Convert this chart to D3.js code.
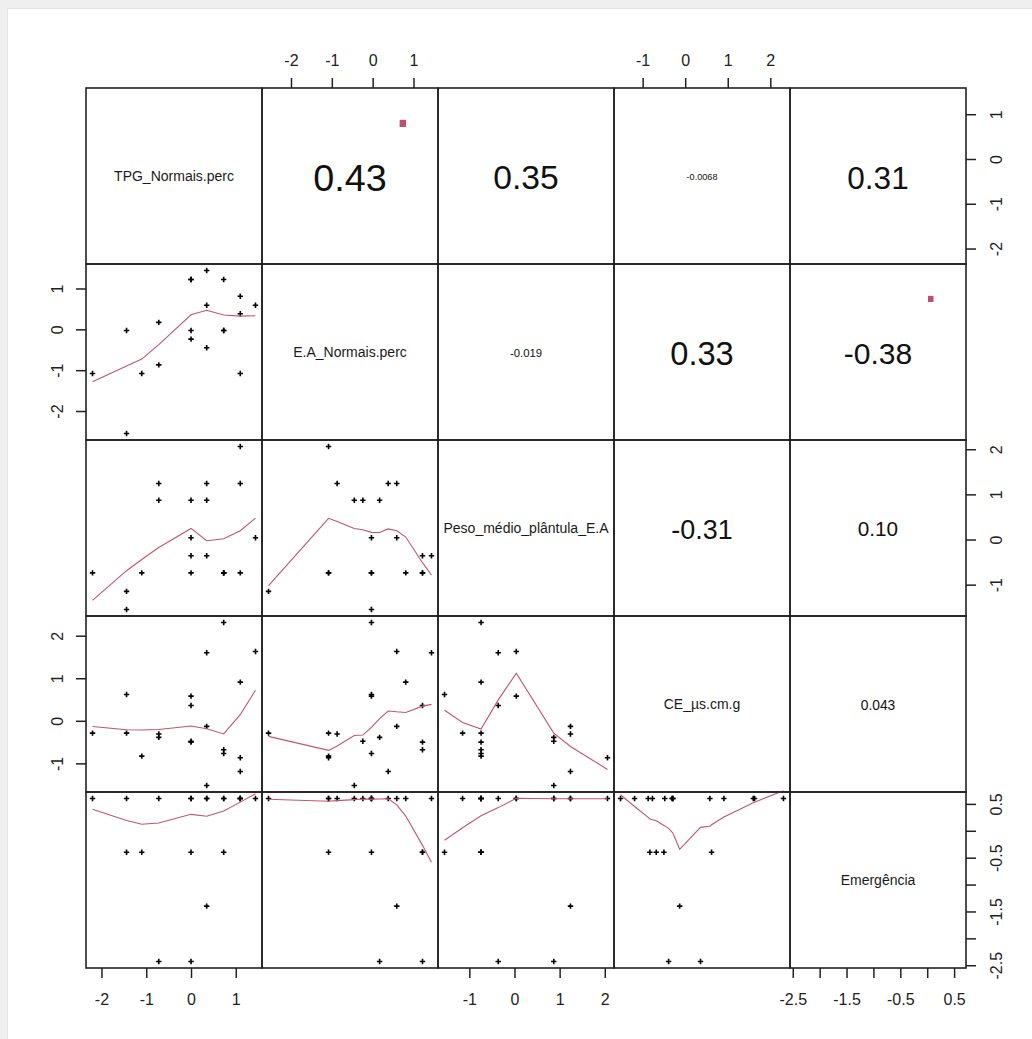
<!DOCTYPE html>
<html>
<head>
<meta charset="utf-8">
<script src="https://cdn.jsdelivr.net/npm/d3@7"></script>
<style>
  html, body { margin: 0; padding: 0; background: #fff; }
  svg { display: block; }
  text { font-family: "Liberation Sans", Arial, sans-serif; }
</style>
</head>
<body>
<script>
// Variable names shown on the diagonal
const varNames = ["TPG_Normais.perc", "E.A_Normais.perc", "Peso_médio_plântula_E.A", "CE_µs.cm.g", "Emergência"];

// Standardised observations (20 lots), one array per variable
const tpg   = [0, 0.35, 0.73, 1.10, 1.44, 0.35, 1.10, -0.72, -1.44, 0, 0.73, 0, 0.35, -0.72, -2.20, -1.10, 1.10, -1.44, 0, 0.73];
const ea    = [1.22, 1.44, 1.22, 0.81, 0.59, 0.59, 0.38, 0.17, -0.03, -0.03, -0.03, -0.24, -0.45, -0.87, -1.08, -1.08, -1.08, -2.55, 1.22, -0.03];
const peso  = [-0.36, -0.36, -0.74, -0.74, 0.04, 1.24, 1.24, 0.87, -1.55, 0.04, -0.74, 0.87, 0.87, 1.24, -0.74, -0.74, 2.06, -1.15, -0.74, -0.74];
const ce    = [0.36, 1.60, -0.68, 0.91, 1.63, -0.13, -1.19, -0.39, 0.62, 0.58, 2.31, -0.48, -1.52, -0.31, -0.29, -0.83, -0.87, -0.29, -0.50, -0.77];
const emerg = [-2.43, 0.6, -0.4, 0.6, 0.6, -1.4, 0.6, -2.43, -0.4, 0.6, 0.6, 0.6, 0.6, 0.6, 0.6, -0.4, 0.6, 0.6, -0.4, 0.6];

// Pearson correlations printed in the upper panels (row, col, label) and significance codes
const corCells  = [[0,1],[0,2],[0,3],[0,4],[1,2],[1,3],[1,4],[2,3],[2,4],[3,4]];
const corLabels = ["0.43", "0.35", "-0.0068", "0.31", "-0.019", "0.33", "-0.38", "-0.31", "0.10", "0.043"];
const corSignif = [".", " ", " ", " ", " ", " ", ".", " ", " ", " "];

// Axis ticks and their labels per variable (blank label = tick only)
const tickValues = [
  [-2, -1, 0, 1],
  [-2, -1, 0, 1],
  [-1, 0, 1, 2],
  [-1, 0, 1, 2],
  [-2.5, -2, -1.5, -1, -0.5, 0, 0.5]
];
const tickLabels = [
  ["-2", "-1", "0", "1"],
  ["-2", "-1", "0", "1"],
  ["-1", "0", "1", "2"],
  ["-1", "0", "1", "2"],
  ["-2.5", "", "-1.5", "", "-0.5", "", "0.5"]
];

const columns = [tpg, ea, peso, ce, emerg];
const nv = columns.length;

const W = 1032, H = 1039;
const gridLeft = 86, gridTop = 88, cell = 176;

const svg = d3.select("body").append("svg").attr("width", W).attr("height", H);

// window frame
svg.append("rect").attr("width", W).attr("height", H).attr("fill", "#efefef");
svg.append("rect").attr("x", 7).attr("y", 8).attr("width", W - 7).attr("height", H - 8).attr("fill", "#e6e6e6");
svg.append("rect").attr("x", 8).attr("y", 9).attr("width", W - 8).attr("height", H - 9).attr("fill", "#fff");

// extended range, like R's xaxs = "r"
function extRange(v) {
  const [a, b] = d3.extent(v);
  const d = (b - a) * 0.04;
  return [a - d, b + d];
}
const xScales = columns.map((v, j) => d3.scaleLinear().domain(extRange(v)).range([gridLeft + j * cell, gridLeft + (j + 1) * cell]));
const yScales = columns.map((v, i) => d3.scaleLinear().domain(extRange(v)).range([gridTop + (i + 1) * cell, gridTop + i * cell]));

// R's lowess (clowess), f = 2/3, 3 robustness iterations
function lowess(xIn, yIn, f = 2 / 3, nsteps = 3) {
  const n = xIn.length;
  const ord = d3.range(n).sort((a, b) => (xIn[a] - xIn[b]) || (a - b));
  const X = [0], Y = [0];
  ord.forEach(k => { X.push(xIn[k]); Y.push(yIn[k]); });
  const YS = new Array(n + 1).fill(0), RW = new Array(n + 1).fill(0);
  const RES = new Array(n + 1).fill(0), Wt = new Array(n + 1).fill(0);
  const delta = 0.01 * (X[n] - X[1]);
  const ns = Math.max(2, Math.min(n, Math.floor(f * n + 1e-7)));

  function lowest(xs, nleft, nright, userw) {
    const range = X[n] - X[1];
    const h = Math.max(xs - X[nleft], X[nright] - xs);
    const h9 = 0.999 * h, h1 = 0.001 * h;
    let a = 0, j = nleft;
    while (j <= n) {
      Wt[j] = 0;
      const r = Math.abs(X[j] - xs);
      if (r <= h9) {
        Wt[j] = r <= h1 ? 1 : Math.pow(1 - Math.pow(r / h, 3), 3);
        if (userw) Wt[j] *= RW[j];
        a += Wt[j];
      } else if (X[j] > xs) break;
      j++;
    }
    const nrt = j - 1;
    if (a <= 0) return null;
    for (let k = nleft; k <= nrt; k++) Wt[k] /= a;
    if (h > 0) {
      a = 0;
      for (let k = nleft; k <= nrt; k++) a += Wt[k] * X[k];
      let b = xs - a, c = 0;
      for (let k = nleft; k <= nrt; k++) c += Wt[k] * (X[k] - a) * (X[k] - a);
      if (Math.sqrt(c) > 0.001 * range) {
        b /= c;
        for (let k = nleft; k <= nrt; k++) Wt[k] *= (b * (X[k] - a) + 1);
      }
    }
    let yv = 0;
    for (let k = nleft; k <= nrt; k++) yv += Wt[k] * Y[k];
    return yv;
  }

  let iter = 1;
  while (iter <= nsteps + 1) {
    let nleft = 1, nright = ns, last = 0, i = 1;
    for (;;) {
      if (nright < n) {
        const d1 = X[i] - X[nleft], d2 = X[nright + 1] - X[i];
        if (d1 > d2) { nleft++; nright++; continue; }
      }
      const v = lowest(X[i], nleft, nright, iter > 1);
      YS[i] = v === null ? Y[i] : v;
      if (last < i - 1) {
        const denom = X[i] - X[last];
        for (let j = last + 1; j < i; j++) {
          const alpha = (X[j] - X[last]) / denom;
          YS[j] = alpha * YS[i] + (1 - alpha) * YS[last];
        }
      }
      last = i;
      const cut = X[last] + delta;
      for (i = last + 1; i <= n; i++) {
        if (X[i] > cut) break;
        if (X[i] === X[last]) { YS[i] = YS[last]; last = i; }
      }
      i = Math.max(last + 1, i - 1);
      if (last >= n) break;
    }
    for (let k = 1; k <= n; k++) RES[k] = Y[k] - YS[k];
    let sc = 0;
    for (let k = 1; k <= n; k++) sc += Math.abs(RES[k]);
    sc /= n;
    if (iter > nsteps) break;
    const ar = RES.slice(1).map(Math.abs).sort((a, b) => a - b);
    const m1 = Math.floor(n / 2);
    let cmad;
    if (n % 2 === 0) cmad = 3 * (ar[m1] + ar[n - m1 - 1]);
    else cmad = 6 * ar[m1];
    if (cmad < 1e-7 * sc) break;
    const c9 = 0.999 * cmad, c1 = 0.001 * cmad;
    for (let k = 1; k <= n; k++) {
      const r = Math.abs(RES[k]);
      RW[k] = r <= c1 ? 1 : (r <= c9 ? Math.pow(1 - Math.pow(r / cmad, 2), 2) : 0);
    }
    iter++;
  }
  return d3.range(1, n + 1).map(k => [X[k], YS[k]]);
}

// measuring helper for text advance width at 100px
const probe = svg.append("text").attr("font-size", 100).attr("visibility", "hidden");
function advance(txt) { probe.text(txt); return probe.node().getComputedTextLength() / 100; }

const plusPath = "M-2.7,0H2.7M0,-2.7V2.7";
const smoothColor = "#c0566e";

// Panels
for (let i = 0; i < nv; i++) {
  for (let j = 0; j < nv; j++) {
    const px = gridLeft + j * cell, py = gridTop + i * cell;
    const g = svg.append("g");
    if (i > j) {
      // scatter with lowess smooth
      const xs = xScales[j], ys = yScales[i];
      const pts = columns[j].map((x, k) => [x, columns[i][k]]);
      g.selectAll("path.pt").data(pts).join("path")
        .attr("class", "pt")
        .attr("d", plusPath)
        .attr("transform", d => `translate(${xs(d[0])},${ys(d[1])})`)
        .attr("stroke", "#000").attr("stroke-width", 1.6).attr("fill", "none");
      const sm = lowess(columns[j], columns[i]);
      g.append("path")
        .attr("d", d3.line().x(d => xs(d[0])).y(d => ys(d[1]))(sm))
        .attr("fill", "none").attr("stroke", smoothColor).attr("stroke-width", 1.1);
    } else if (i === j) {
      g.append("text")
        .attr("x", px + cell / 2).attr("y", py + cell / 2 + 5)
        .attr("text-anchor", "middle").attr("font-size", 14).attr("fill", "#1a1a1a")
        .text(varNames[i]);
    } else {
      const idx = corCells.findIndex(c => c[0] === i && c[1] === j);
      const txt = corLabels[idx];
      const r = Math.abs(+txt);
      const adv = advance(txt);
      const base = 0.93 * 0.8 * cell / adv;
      const fs = base * (r + 0.3) / 1.3;
      g.append("text")
        .attr("x", px + cell / 2).attr("y", py + cell / 2 + 0.40 * fs)
        .attr("text-anchor", "middle").attr("font-size", fs).attr("fill", "#111")
        .text(txt);
      const sig = corSignif[idx];
      if (sig.trim() !== "") {
        g.append("text")
          .attr("x", px + 0.8 * cell).attr("y", py + 0.2 * cell + 0.052 * base)
          .attr("text-anchor", "middle").attr("font-size", base).attr("fill", "#c0506a")
          .text(sig);
      }
    }
    g.append("rect")
      .attr("x", px).attr("y", py).attr("width", cell).attr("height", cell)
      .attr("fill", "none").attr("stroke", "#222").attr("stroke-width", 1.6);
  }
}
probe.remove();

// Axes alternate around the matrix, as in R's pairs()
function styleAxis(ax, kind) {
  ax.select(".domain").remove();
  ax.selectAll(".tick line").attr("stroke", "#222").attr("stroke-width", 1.5);
  const t = ax.selectAll(".tick text").attr("fill", "#222").attr("font-size", 16)
    .attr("font-family", "Liberation Sans, Arial, sans-serif").attr("dy", null);
  if (kind === "top") t.attr("y", -22).attr("text-anchor", "middle");
  if (kind === "bottom") t.attr("y", 37).attr("text-anchor", "middle");
  if (kind === "left") t.attr("x", 0).attr("y", -23).attr("transform", "rotate(-90)").attr("text-anchor", "middle");
  if (kind === "right") t.attr("x", 0).attr("y", 36).attr("transform", "rotate(-90)").attr("text-anchor", "middle");
}
function fmt(k) { return (d, n) => tickLabels[k][n]; }

for (let j = 0; j < nv; j++) {
  if (j % 2 === 1) {
    const ax = svg.append("g").attr("transform", `translate(0,${gridTop})`)
      .call(d3.axisTop(xScales[j]).tickValues(tickValues[j]).tickFormat(fmt(j)).tickSize(10).tickSizeOuter(0));
    styleAxis(ax, "top");
  } else {
    const ax = svg.append("g").attr("transform", `translate(0,${gridTop + nv * cell})`)
      .call(d3.axisBottom(xScales[j]).tickValues(tickValues[j]).tickFormat(fmt(j)).tickSize(10).tickSizeOuter(0));
    styleAxis(ax, "bottom");
  }
}
for (let i = 0; i < nv; i++) {
  if (i % 2 === 1) {
    const ax = svg.append("g").attr("transform", `translate(${gridLeft},0)`)
      .call(d3.axisLeft(yScales[i]).tickValues(tickValues[i]).tickFormat(fmt(i)).tickSize(10).tickSizeOuter(0));
    styleAxis(ax, "left");
  } else {
    const ax = svg.append("g").attr("transform", `translate(${gridLeft + nv * cell},0)`)
      .call(d3.axisRight(yScales[i]).tickValues(tickValues[i]).tickFormat(fmt(i)).tickSize(10).tickSizeOuter(0));
    styleAxis(ax, "right");
  }
}
</script>
</body>
</html>
